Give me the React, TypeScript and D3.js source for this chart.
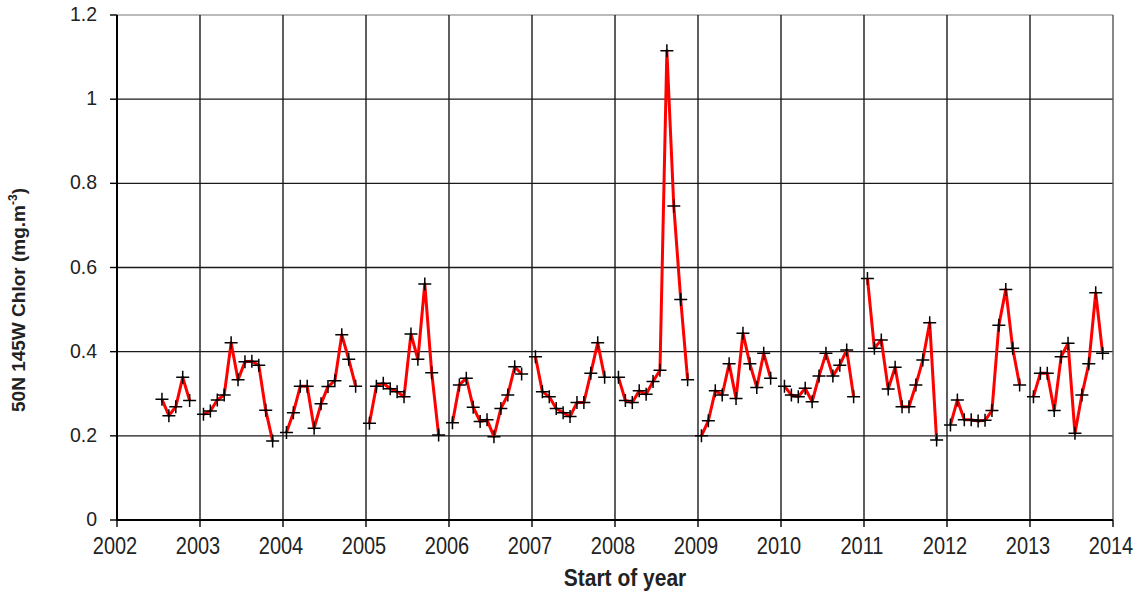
import React from "react";
import * as d3 from "d3";

// Monthly mean chlorophyll at 50N 145W (mg m^-3), Jan..Nov of each year
// (2002 record starts in July; December is not sampled).
const years = [2002, 2003, 2004, 2005, 2006, 2007, 2008, 2009, 2010, 2011, 2012, 2013];
const firstMonth2002 = 7;
const chl2002 = [0.287, 0.248, 0.269, 0.339, 0.284];
const chl2003 = [0.251, 0.259, 0.285, 0.297, 0.421, 0.333, 0.376, 0.377, 0.368, 0.261, 0.188];
const chl2004 = [0.208, 0.255, 0.318, 0.318, 0.218, 0.276, 0.317, 0.331, 0.44, 0.382, 0.318];
const chl2005 = [0.23, 0.318, 0.325, 0.312, 0.305, 0.293, 0.442, 0.382, 0.561, 0.35, 0.202];
const chl2006 = [0.231, 0.321, 0.337, 0.268, 0.234, 0.238, 0.198, 0.265, 0.297, 0.364, 0.347];
const chl2007 = [0.388, 0.305, 0.293, 0.265, 0.255, 0.246, 0.279, 0.279, 0.349, 0.421, 0.339];
const chl2008 = [0.339, 0.284, 0.279, 0.307, 0.299, 0.329, 0.356, 1.115, 0.746, 0.524, 0.333];
const chl2009 = [0.2, 0.236, 0.307, 0.297, 0.371, 0.289, 0.444, 0.371, 0.315, 0.396, 0.337];
const chl2010 = [0.318, 0.297, 0.293, 0.313, 0.281, 0.342, 0.396, 0.342, 0.368, 0.404, 0.293];
const chl2011 = [0.574, 0.408, 0.428, 0.311, 0.363, 0.269, 0.269, 0.321, 0.38, 0.469, 0.19];
const chl2012 = [0.226, 0.285, 0.238, 0.238, 0.235, 0.237, 0.26, 0.463, 0.548, 0.408, 0.321];
const chl2013 = [0.293, 0.349, 0.349, 0.26, 0.388, 0.42, 0.206, 0.297, 0.371, 0.54, 0.396];

const yearlySeries = [
  chl2002, chl2003, chl2004, chl2005, chl2006, chl2007,
  chl2008, chl2009, chl2010, chl2011, chl2012, chl2013,
];

const xTicks = [2002, 2003, 2004, 2005, 2006, 2007, 2008, 2009, 2010, 2011, 2012, 2013, 2014];
const yTicks = [0, 0.2, 0.4, 0.6, 0.8, 1, 1.2];
const yTickLabels = ["0", "0.2", "0.4", "0.6", "0.8", "1", "1.2"];

const W = 1138;
const H = 592;
const M = { left: 117, right: 1113, top: 15, bottom: 520 };

type Pt = { t: number; v: number };

export default function App() {
  const x = d3.scaleLinear().domain([2002, 2014]).range([M.left, M.right]);
  const y = d3.scaleLinear().domain([0, 1.2]).range([M.bottom, M.top]);

  // one segment per calendar year, points placed mid-month
  const segments: Pt[][] = yearlySeries.map((vals, i) => {
    const start = years[i] === 2002 ? firstMonth2002 : 1;
    return vals.map((v, k) => ({ t: years[i] + (start + k - 0.5) / 12, v }));
  });

  const line = d3
    .line<Pt>()
    .x((d) => x(d.t))
    .y((d) => y(d.v));

  const textColor = "#222";
  const font = "'Liberation Sans', Arial, sans-serif";

  return (
    <svg
      width={W}
      height={H}
      style={{ position: "absolute", left: 0, top: 0, background: "#fff" }}
      fontFamily={font}
    >
      <rect x={0} y={0} width={W} height={H} fill="#fff" />

      {/* horizontal grid */}
      {yTicks.map((t, i) => (
        <line
          key={"gy" + i}
          x1={M.left}
          x2={M.right}
          y1={y(t)}
          y2={y(t)}
          stroke={t === 1.2 ? "#777" : "#1a1a1a"}
          strokeWidth={t === 1.2 ? 1 : 1.4}
        />
      ))}
      {/* vertical grid */}
      {xTicks.map((t, i) => (
        <line
          key={"gx" + i}
          x1={x(t)}
          x2={x(t)}
          y1={M.top}
          y2={M.bottom}
          stroke={t === 2014 ? "#555" : "#1a1a1a"}
          strokeWidth={1.4}
        />
      ))}

      {/* axes */}
      <line x1={M.left} x2={M.left} y1={M.top} y2={M.bottom + 0.5} stroke="#000" strokeWidth={2} />
      <line x1={M.left - 0.5} x2={M.right} y1={M.bottom} y2={M.bottom} stroke="#000" strokeWidth={2} />
      {yTicks.map((t, i) => (
        <line key={"ty" + i} x1={M.left - 7} x2={M.left} y1={y(t)} y2={y(t)} stroke="#000" strokeWidth={1.4} />
      ))}
      {xTicks.map((t, i) => (
        <line key={"tx" + i} x1={x(t)} x2={x(t)} y1={M.bottom} y2={M.bottom + 7} stroke="#000" strokeWidth={1.4} />
      ))}

      {/* tick labels */}
      {yTicks.map((t, i) => (
        <text
          key={"ly" + i}
          transform={`translate(${M.left - 20},${y(t) + 6}) scale(1,1.08)`}
          textAnchor="end"
          fontSize={19.5}
          fill={textColor}
        >
          {yTickLabels[i]}
        </text>
      ))}
      {xTicks.map((t, i) => (
        <text
          key={"lx" + i}
          transform={`translate(${x(t) - 2},554) scale(1,1.15)`}
          textAnchor="middle"
          fontSize={20}
          fill={textColor}
        >
          {String(t)}
        </text>
      ))}

      {/* series */}
      {segments.map((seg, i) => (
        <path
          key={"s" + i}
          d={line(seg) || ""}
          fill="none"
          stroke="#ff0000"
          strokeWidth={3}
          strokeLinejoin="round"
        />
      ))}
      {segments.flat().map((d, i) => (
        <path
          key={"m" + i}
          d={`M${x(d.t) - 6.5},${y(d.v)}H${x(d.t) + 6.5}M${x(d.t)},${y(d.v) - 6.5}V${y(d.v) + 6.5}`}
          stroke="#000"
          strokeWidth={1.5}
          fill="none"
        />
      ))}

      {/* axis titles */}
      <text
        transform={`translate(625,586) scale(1,1.12)`}
        textAnchor="middle"
        fontSize={21}
        fontWeight="bold"
        fill={textColor}
      >
        Start of year
      </text>
      <text
        transform="translate(25,300) rotate(-90)"
        textAnchor="middle"
        fontSize={19}
        fontWeight="bold"
        fill={textColor}
      >
        50N 145W Chlor (mg.m
        <tspan fontSize={12} dy={-8}>-3</tspan>
        <tspan dy={8}>)</tspan>
      </text>
    </svg>
  );
}
